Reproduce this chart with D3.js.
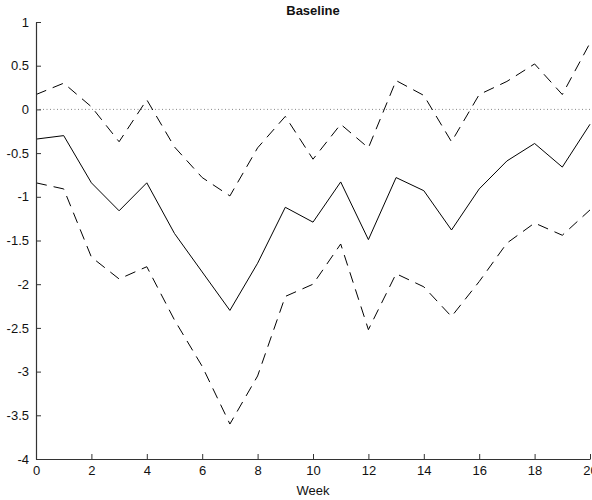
<!DOCTYPE html>
<html>
<head>
<meta charset="utf-8">
<script src="https://cdn.jsdelivr.net/npm/d3@7"></script>
<style>
  html, body { margin: 0; padding: 0; background: #fff; }
  svg { display: block; font-family: "Liberation Sans", Arial, sans-serif; }
</style>
</head>
<body>
<svg id="chart" width="592" height="500"></svg>
<script>
// Weekly estimate with upper and lower bounds
const weeks = d3.range(0, 21);
const meanValues = [-0.34, -0.30, -0.84, -1.16, -0.84, -1.42, -1.86, -2.30, -1.76, -1.12,
                    -1.29, -0.83, -1.49, -0.78, -0.93, -1.38, -0.91, -0.59, -0.39, -0.66, -0.17];
const upperValues = [0.17, 0.30, 0.03, -0.37, 0.11, -0.43, -0.78, -0.99, -0.44, -0.08,
                     -0.57, -0.17, -0.44, 0.33, 0.16, -0.37, 0.17, 0.32, 0.52, 0.17, 0.76];
const lowerValues = [-0.84, -0.91, -1.69, -1.94, -1.80, -2.41, -2.94, -3.60, -3.05, -2.14,
                     -2.00, -1.54, -2.52, -1.88, -2.03, -2.37, -1.97, -1.53, -1.30, -1.44, -1.15];
const xTicks = [0, 2, 4, 6, 8, 10, 12, 14, 16, 18, 20];
const yTicks = [1, 0.5, 0, -0.5, -1, -1.5, -2, -2.5, -3, -3.5, -4];
const titleText = "Baseline";
const xLabelText = "Week";

const svg = d3.select("#chart");
const plotLeft = 36, plotRight = 590, plotTop = 22, plotBottom = 459;

const x = d3.scaleLinear().domain([0, 20]).range([plotLeft, plotRight]);
const y = d3.scaleLinear().domain([-4, 1]).range([plotBottom, plotTop]);

// zero reference line
svg.append("line")
  .attr("x1", x(0)).attr("x2", x(20))
  .attr("y1", y(0)).attr("y2", y(0))
  .attr("stroke", "#888").attr("stroke-width", 1)
  .attr("stroke-dasharray", "1,2.5");

const line = d3.line().x((d, i) => x(weeks[i])).y(d => y(d));

svg.append("path").datum(upperValues)
  .attr("d", line).attr("fill", "none")
  .attr("stroke", "#000").attr("stroke-width", 1)
  .attr("stroke-dasharray", "11,7");

svg.append("path").datum(lowerValues)
  .attr("d", line).attr("fill", "none")
  .attr("stroke", "#000").attr("stroke-width", 1)
  .attr("stroke-dasharray", "11,7");

svg.append("path").datum(meanValues)
  .attr("d", line).attr("fill", "none")
  .attr("stroke", "#000").attr("stroke-width", 1);

// axes with inward ticks
const xAxis = d3.axisBottom(x).tickValues(xTicks).tickSizeInner(-5).tickSizeOuter(0).tickPadding(7)
  .tickFormat(d3.format("d"));
const gx = svg.append("g").attr("transform", `translate(0,${plotBottom})`).call(xAxis);

const yAxis = d3.axisLeft(y).tickValues(yTicks).tickSizeInner(-5).tickSizeOuter(0).tickPadding(7)
  .tickFormat(d => String(d));
const gy = svg.append("g").attr("transform", `translate(${plotLeft},0)`).call(yAxis);

[gx, gy].forEach(g => {
  g.select(".domain").attr("stroke", "#333").attr("stroke-width", 1.2);
  g.selectAll(".tick line").attr("stroke", "#333");
  g.selectAll(".tick text").attr("fill", "#111").style("font-size", "13px")
    .style("font-family", "'Liberation Sans', Arial, sans-serif");
});

svg.append("text")
  .attr("x", (plotLeft + plotRight) / 2).attr("y", 15)
  .attr("text-anchor", "middle")
  .style("font-size", "13px").style("font-weight", "bold")
  .attr("fill", "#111")
  .text(titleText);

svg.append("text")
  .attr("x", (plotLeft + plotRight) / 2).attr("y", 495)
  .attr("text-anchor", "middle")
  .style("font-size", "13px")
  .attr("fill", "#111")
  .text(xLabelText);
</script>
</body>
</html>
